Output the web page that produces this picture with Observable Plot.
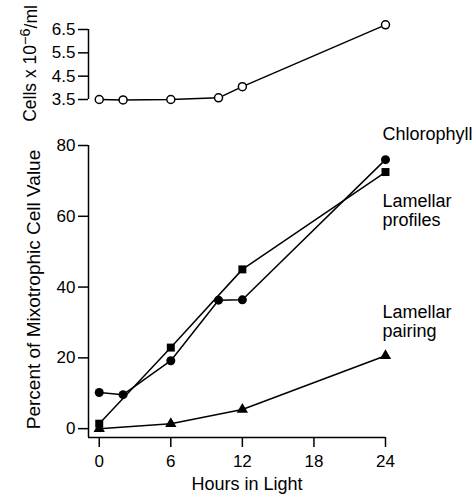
<!DOCTYPE html>
<html><head><meta charset="utf-8">
<script src="https://cdn.jsdelivr.net/npm/d3@7"></script>
<script src="https://cdn.jsdelivr.net/npm/@observablehq/plot@0.6"></script>
<style>
body{margin:0;background:#fff}
#c{width:472px;height:499px;overflow:hidden}
#c svg{display:block}
</style>
</head><body><div id="c"></div>
<script>
// ---- data ----
const cellHours = [0, 2, 6, 10, 12, 24];
const cellCounts = [3.5, 3.48, 3.5, 3.57, 4.05, 6.7];
const chlHours = [0, 2, 6, 10, 12, 24];
const chlValues = [10.2, 9.6, 19.2, 36.3, 36.4, 76];
const profHours = [0, 6, 12, 24];
const profValues = [1.4, 22.9, 45, 72.5];
const pairHours = [0, 6, 12, 24];
const pairValues = [0, 1.4, 5.4, 20.6];
const xTicks = [0, 6, 12, 18, 24];
const cellTicks = [3.5, 4.5, 5.5, 6.5];
const pctTicks = [0, 20, 40, 60, 80];
const seriesNames = ["Chlorophyll", "Lamellar\nprofiles", "Lamellar\npairing"];
const topLabelParts = ["Cells x 10", "−6", "/ml"];
const yLabel = "Percent of Mixotrophic Cell Value";
const xLabel = "Hours in Light";

const xDomain = [-0.9, 24];
const zip = (xs, ys) => xs.map((x, i) => ({x, y: ys[i]}));
const cells = zip(cellHours, cellCounts);
const chl = zip(chlHours, chlValues);
const prof = zip(profHours, profValues);
const pair = zip(pairHours, pairValues);
const last = a => [a[a.length - 1]];

const font = "'Liberation Sans', Arial, sans-serif";
const baseStyle = {fontFamily: font, fontSize: "17px", color: "black", background: "white", overflow: "visible"};
const lw = 1.5;

const topPlot = Plot.plot({
  width: 472, height: 125,
  marginLeft: 88, marginRight: 87, marginTop: 29, marginBottom: 26,
  style: baseStyle,
  x: {domain: xDomain, axis: null},
  y: {domain: [3.5, 6.5], axis: null},
  marks: [
    Plot.ruleX([xDomain[0]], {strokeWidth: lw}),
    Plot.axisY({ticks: cellTicks, tickSize: 10, tickPadding: 3, tickFormat: d3.format(".1f"), label: null, strokeWidth: lw, fontSize: 17}),
    Plot.line(cells, {x: "x", y: "y", strokeWidth: lw}),
    Plot.dot(cells, {x: "x", y: "y", r: 4, fill: "white", stroke: "black", strokeWidth: lw}),
    Plot.text([topLabelParts.join("")], {frameAnchor: "left", textAnchor: "middle", dx: -58, dy: -1, rotate: -90, fontSize: 17.5})
  ]
});

// render superscript as real tspans
d3.select(topPlot).selectAll("text").each(function() {
  if (this.textContent === topLabelParts.join("")) {
    const t = d3.select(this);
    t.text(null);
    t.append("tspan").text(topLabelParts[0]);
    t.append("tspan").attr("dy", "-0.45em").attr("font-size", 14.5).text(topLabelParts[1]);
    t.append("tspan").attr("dy", "0.45em").text(topLabelParts[2]);
  }
});

const botPlot = Plot.plot({
  width: 472, height: 374,
  marginLeft: 88, marginRight: 87, marginTop: 20, marginBottom: 62,
  style: baseStyle,
  x: {domain: xDomain, axis: null},
  y: {domain: [-2.5, 80], axis: null},
  marks: [
    Plot.ruleX([xDomain[0]], {strokeWidth: lw}),
    Plot.ruleY([-2.5], {strokeWidth: lw}),
    Plot.axisY({ticks: pctTicks, tickSize: 10, tickPadding: 3, label: null, strokeWidth: lw, fontSize: 17}),
    Plot.axisX({ticks: xTicks, tickSize: 10, tickPadding: 7, label: null, strokeWidth: lw, fontSize: 17}),
    Plot.line(chl, {x: "x", y: "y", strokeWidth: lw}),
    Plot.line(prof, {x: "x", y: "y", strokeWidth: lw}),
    Plot.line(pair, {x: "x", y: "y", strokeWidth: lw}),
    Plot.dot(chl, {x: "x", y: "y", r: 4.5, fill: "black", symbol: "circle"}),
    Plot.dot(prof, {x: "x", y: "y", r: 4.5, fill: "black", symbol: "square"}),
    Plot.dot(pair, {x: "x", y: "y", r: 4.2, fill: "black", symbol: "triangle"}),
    Plot.text(last(chl), {x: "x", y: "y", text: () => seriesNames[0], textAnchor: "start", dx: -3, dy: -25, fontSize: 18}),
    Plot.text(last(prof), {x: "x", y: "y", text: () => seriesNames[1], textAnchor: "start", dx: -3, dy: 38, fontSize: 18, lineHeight: 1.06}),
    Plot.text(last(pair), {x: "x", y: "y", text: () => seriesNames[2], textAnchor: "start", dx: -3, dy: -34, fontSize: 18, lineHeight: 1.06}),
    Plot.text([yLabel], {frameAnchor: "left", textAnchor: "middle", dx: -55, dy: -2, rotate: -90, fontSize: 19}),
    Plot.text([xLabel], {frameAnchor: "bottom", dx: 10, dy: 52, fontSize: 18})
  ]
});

const c = document.getElementById("c");
c.appendChild(topPlot);
c.appendChild(botPlot);
</script>
</body></html>
